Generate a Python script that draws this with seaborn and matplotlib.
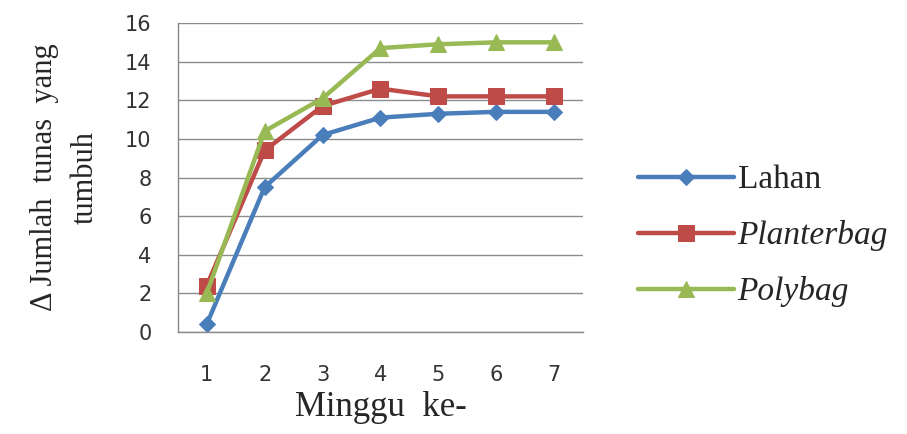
import matplotlib
matplotlib.use("Agg")
import matplotlib.pyplot as plt
import seaborn as sns
import pandas as pd
import numpy as np

# data
minggu = [1, 2, 3, 4, 5, 6, 7]
lahan = [0.4, 7.5, 10.2, 11.1, 11.3, 11.4, 11.4]
planterbag = [2.4, 9.4, 11.7, 12.6, 12.2, 12.2, 12.2]
polybag = [2.0, 10.4, 12.1, 14.7, 14.9, 15.0, 15.0]

series = ["Lahan", "Planterbag", "Polybag"]
colors = {"Lahan": "#4A7EBB", "Planterbag": "#BE4B48", "Polybag": "#98B954"}
markers = {"Lahan": "D", "Planterbag": "s", "Polybag": "^"}
msizes = {"Lahan": 8, "Planterbag": 12, "Polybag": 12}

df = pd.DataFrame({"minggu": minggu * 3,
                   "nilai": lahan + planterbag + polybag,
                   "seri": np.repeat(series, len(minggu))})

sns.set_style("white")
plt.rcParams["font.family"] = ["DejaVu Sans"]
serif = ["Liberation Serif", "DejaVu Serif"]

fig = plt.figure(figsize=(9.07, 4.34), dpi=100)
ax = fig.add_axes([0.196, 0.235, 0.447, 0.712])

for s in series:
    sub = df[df["seri"] == s]
    sns.lineplot(data=sub, x="minggu", y="nilai", ax=ax, color=colors[s],
                 marker=markers[s], markersize=msizes[s], linewidth=3.2,
                 markeredgecolor=colors[s], label=s)

ax.set_ylim(0, 16)
ax.set_yticks(range(0, 17, 2))
ax.set_xlim(0.5, 7.5)
ax.set_xticks(minggu)
ax.set_xticks(np.arange(0.5, 8, 1), minor=True)
ax.tick_params(axis="x", which="major", length=0, pad=24, labelsize=15, labelcolor="#333333")
ax.tick_params(axis="x", which="minor", length=6, width=1, color="#888888", direction="out")
ax.tick_params(axis="y", length=5, width=1, color="#888888", labelsize=15, labelcolor="#333333", pad=14)
ax.yaxis.grid(True, color="#8c8c8c", linewidth=1)
ax.xaxis.grid(False)
for side in ["top", "right"]:
    ax.spines[side].set_visible(False)
for side in ["left", "bottom"]:
    ax.spines[side].set_color("#888888")
    ax.spines[side].set_linewidth(1)

ax.set_xlabel("Minggu  ke-", family=serif, fontsize=25, labelpad=4)
ax.set_ylabel("Δ Jumlah  tunas  yang\ntumbuh", family=serif, fontsize=22,
              labelpad=18, linespacing=1.55)

leg = ax.legend(loc="center left", bbox_to_anchor=(1.06, 0.31), frameon=False,
                handlelength=2.9, handletextpad=0.1, labelspacing=0.75,
                prop={"family": serif, "size": 24})
for t in leg.get_texts():
    if t.get_text() != "Lahan":
        t.set_fontstyle("italic")

fig.savefig("out.png", dpi=100)
